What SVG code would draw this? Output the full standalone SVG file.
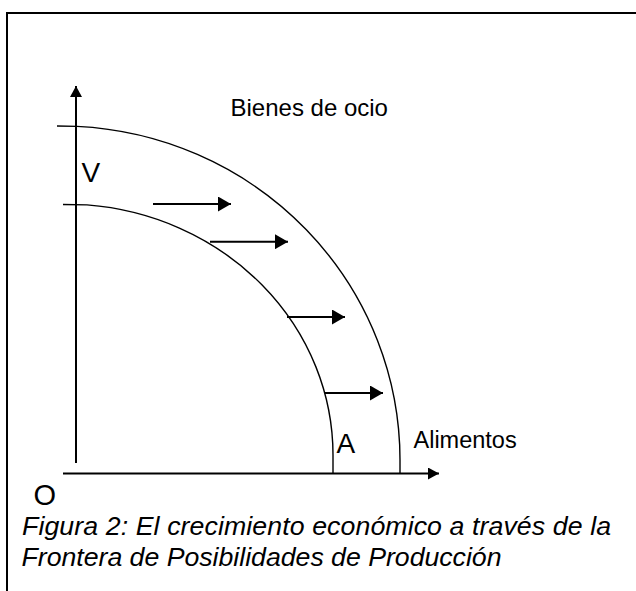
<svg xmlns="http://www.w3.org/2000/svg" width="636" height="591" viewBox="0 0 636 591">
<defs>
<marker id="ah" viewBox="0 0 13 15" refX="13" refY="7.5" markerWidth="13" markerHeight="15" markerUnits="userSpaceOnUse" orient="auto"><path d="M0,0 L13,7.5 L0,15 Z" fill="#000"/></marker>
<marker id="ax" viewBox="0 0 11 12" refX="11" refY="6" markerWidth="11" markerHeight="12" markerUnits="userSpaceOnUse" orient="auto"><path d="M0,0 L11,6 L0,12 Z" fill="#000"/></marker>
<style>
.t{font-family:"Liberation Sans",Arial,sans-serif;fill:#000}
.crv{fill:none;stroke:#000;stroke-width:1.4}
.sh{stroke:#000;stroke-width:2;marker-end:url(#ah)}
.axl{stroke:#000;stroke-width:2;marker-end:url(#ax)}
</style>
</defs>
<rect x="0" y="0" width="636" height="591" fill="#fff"/>
<path d="M7,600 L7,13 L640,13" fill="none" stroke="#000" stroke-width="2"/>
<g id="axes">
<line class="axl" x1="76" y1="463" x2="76" y2="86"/>
<line class="axl" x1="63" y1="473.5" x2="439" y2="473.5"/>
</g>
<g id="outer-frontier">
<path class="crv" d="M57,126 L77,126.4 A340 334 0 0 1 400,460 L400,473"/>
</g>
<g id="inner-frontier">
<path class="crv" d="M63,204.5 L87,204.9 A268 251 0 0 1 333,455 L333,473"/>
</g>
<g id="connectors">
<line class="sh" x1="153" y1="204" x2="231" y2="204"/>
<line class="sh" x1="210" y1="241.7" x2="288" y2="241.7"/>
<line class="sh" x1="287" y1="317" x2="345" y2="317"/>
<line class="sh" x1="325" y1="393" x2="383" y2="393"/>
</g>
<g id="labels">
<text class="t" x="230.5" y="115.7" font-size="24">Bienes de ocio</text>
<text class="t" x="413.5" y="447.7" font-size="23.5">Alimentos</text>
<text class="t" x="81.5" y="181.7" font-size="28">V</text>
<text class="t" x="336.5" y="453.3" font-size="28">A</text>
<text class="t" x="33.5" y="504.5" font-size="29">O</text>
</g>
<g id="caption">
<text class="t" x="22" y="535" font-size="26.7" font-style="italic" textLength="589" lengthAdjust="spacing">Figura 2: El crecimiento económico a través de la</text>
<text class="t" x="21.5" y="566" font-size="26.7" font-style="italic" textLength="480" lengthAdjust="spacing">Frontera de Posibilidades de Producción</text>
</g>
</svg>
